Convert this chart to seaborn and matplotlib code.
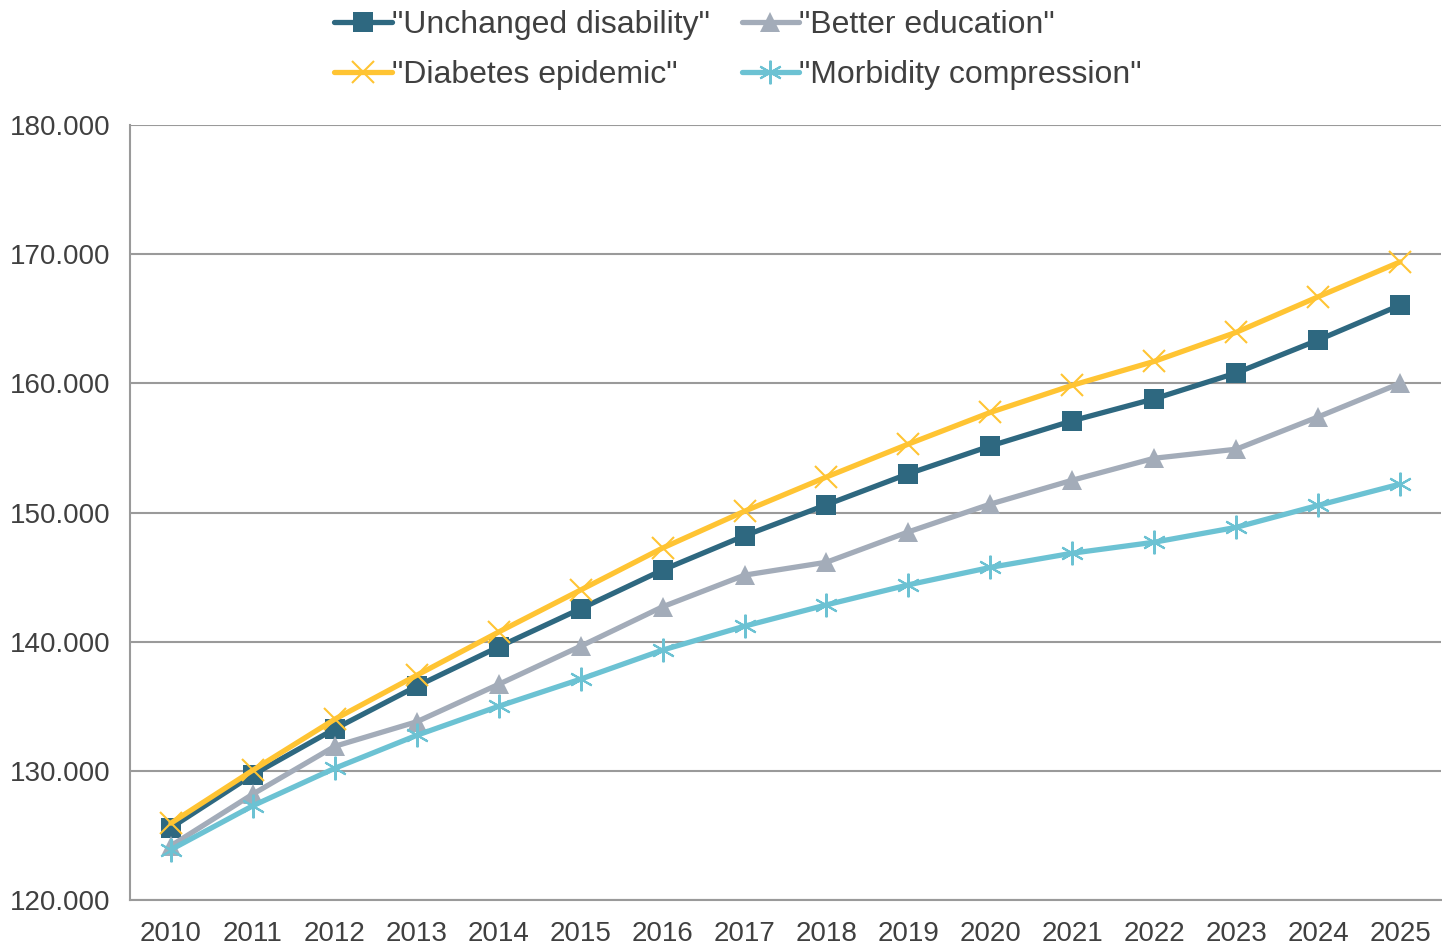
import matplotlib
matplotlib.use("Agg")
import matplotlib.pyplot as plt
from matplotlib.ticker import FuncFormatter, FixedLocator
import seaborn as sns
import pandas as pd

years = list(range(2010, 2026))

unchanged_disability = [125600, 129700, 133250, 136550, 139600, 142550, 145550, 148200,
                        150600, 153000, 155150, 157100, 158800, 160800, 163350, 166050]
better_education = [124200, 128200, 131900, 133800, 136700, 139650, 142700, 145150,
                    146150, 148500, 150650, 152500, 154200, 154900, 157400, 160000]
diabetes_epidemic = [125950, 130050, 134000, 137400, 140750, 144000, 147250, 150100,
                     152750, 155300, 157750, 159850, 161700, 163950, 166700, 169400]
morbidity_compression = [123900, 127300, 130200, 132750, 135000, 137100, 139350, 141200,
                         142850, 144400, 145750, 146850, 147700, 148850, 150550, 152200]

series_names = ['"Unchanged disability"', '"Diabetes epidemic"',
                '"Better education"', '"Morbidity compression"']
series_values = [unchanged_disability, diabetes_epidemic,
                 better_education, morbidity_compression]

colors = ["#2E6880", "#FFC433", "#A3ACB9", "#6CC2D3"]
markers = ["s", "x", "^", (6, 2, 0)]
marker_sizes = [15, 16, 15, 17]
edge_widths = [0, 1.5, 0, 1.5]
draw_order = [3, 2, 0, 1]

sns.set_theme(style="white")
plt.rcParams["font.family"] = ["Liberation Sans", "DejaVu Sans"]
text_color = "#404040"

fig = plt.figure(figsize=(14.42, 9.46), dpi=100)
ax = fig.add_axes([130 / 1442, 46 / 946, 1311 / 1442, 775 / 946])

df = pd.DataFrame({"year": years})
handles = {}
for i in draw_order:
    df["value"] = series_values[i]
    sns.lineplot(data=df, x="year", y="value", ax=ax, color=colors[i],
                 linewidth=3.8, marker=markers[i], markersize=marker_sizes[i],
                 markeredgecolor=colors[i], markerfacecolor=colors[i],
                 markeredgewidth=edge_widths[i], label=series_names[i],
                 legend=False, zorder=3 + i)
    handles[i] = ax.get_lines()[-1]

ax.set_xlim(2009.5, 2025.5)
ax.set_ylim(120000, 180000)
ax.set_yticks(range(120000, 180001, 10000))
ax.yaxis.set_major_formatter(FuncFormatter(lambda v, _: f"{int(v) // 1000}.000"))
ax.set_xticks(years)
ax.set_xticklabels([str(y) for y in years])
ax.xaxis.set_minor_locator(FixedLocator([y - 0.5 for y in years] + [2025.5]))
ax.tick_params(axis="x", which="major", length=0, pad=15,
               labelsize=20, labelcolor=text_color)
ax.tick_params(axis="x", which="minor", length=8, width=1.5,
               color="#9A9A9A", direction="out")
ax.tick_params(axis="y", which="major", length=8, width=1.5,
               color="#9A9A9A", direction="out", pad=6,
               labelsize=20, labelcolor=text_color)
ax.set_xlabel("")
ax.set_ylabel("")
ax.grid(axis="y", color="#9A9A9A", linewidth=1.5)
ax.grid(axis="x", visible=False)
ax.set_axisbelow(True)
for side in ("top", "right"):
    ax.spines[side].set_visible(False)
for side in ("left", "bottom"):
    ax.spines[side].set_color("#9A9A9A")
    ax.spines[side].set_linewidth(1.5)

fig.legend([handles[i] for i in range(4)], series_names,
           loc="upper center", bbox_to_anchor=(738 / 1442, 1.003),
           ncol=2, frameon=False, fontsize=23, labelcolor=text_color,
           handlelength=1.8, handletextpad=0.0, columnspacing=1.0,
           labelspacing=0.62, borderaxespad=0.0)

fig.savefig("out.png", dpi=100)
